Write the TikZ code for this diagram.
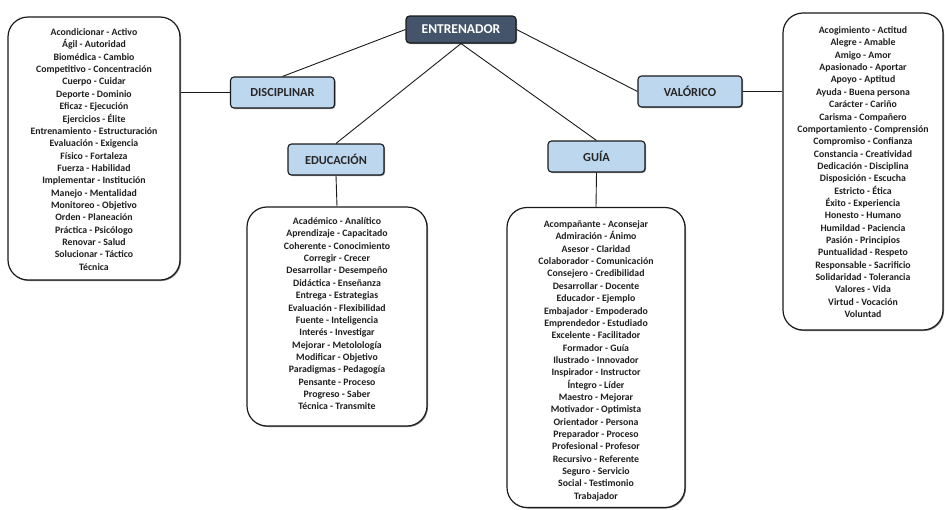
\documentclass[tikz,border=0pt]{standalone}
\usepackage{fontspec}
\setmainfont{Carlito}
\usetikzlibrary{shadows}
\definecolor{rootfill}{HTML}{44546A}
\definecolor{catfill}{HTML}{BDD7EE}
\definecolor{edge}{HTML}{1A1A1A}
\tikzset{
  rootbox/.style={draw=edge, line width=1.1pt, fill=rootfill, rounded corners=3.5pt,
    text=white, font=\bfseries\fontsize{13.5}{15}\selectfont,
    minimum width=110pt, minimum height=27pt, inner sep=0pt,
    drop shadow={shadow xshift=1pt, shadow yshift=-1pt, opacity=0.45, fill=black}},
  catbox/.style={draw=edge, line width=1.1pt, fill=catfill, rounded corners=3.5pt,
    text=black!85, font=\bfseries\fontsize{12.3}{14}\selectfont,
    minimum width=104pt, minimum height=31pt, inner sep=0pt,
    drop shadow={shadow xshift=1pt, shadow yshift=-1pt, opacity=0.45, fill=black}},
  listbox/.style={draw=edge, line width=1.2pt, fill=white, rounded corners=20pt,
    inner sep=0pt,
    drop shadow={shadow xshift=1pt, shadow yshift=-1pt, opacity=0.5, fill=black}},
  listtext/.style={align=center, inner sep=0pt, text=black!88,
    font=\bfseries\fontsize{9.8}{12.35}\selectfont},
  link/.style={draw=edge, line width=0.9pt},
}
\begin{document}
\begin{tikzpicture}[x=1pt, y=-1pt]
\useasboundingbox (0,0) rectangle (945,509);

% central node and categories
\node[rootbox] (E) at (461,29.5) {ENTRENADOR};
\node[catbox] (D) at (282.5,92.5) {DISCIPLINAR};
\node[catbox, minimum width=96pt] (Ed) at (336,159.5) {EDUCACIÓN};
\node[catbox, minimum width=97pt] (G) at (596.5,156.5) {GUÍA};
\node[catbox] (V) at (690,91.5) {VALÓRICO};

% word lists
\node[listbox, minimum width=172pt, minimum height=263pt] (LD) at (94,148.5) {};
\node[listbox, minimum width=180pt, minimum height=219pt] (LE) at (337,316.5) {};
\node[listbox, minimum width=178pt, minimum height=300pt] (LG) at (596,357.5) {};
\node[listbox, minimum width=160pt, minimum height=317pt] (LV) at (863,171.5) {};

\node[listtext, anchor=north] (TD) at (94,28.5) {Acondicionar  - Activo\\
Ágil - Autoridad\\
Biomédica - Cambio\\
Competitivo - Concentración\\
Cuerpo  - Cuidar\\
Deporte  - Dominio\\
Eficaz - Ejecución\\
Ejercicios - Élite\\
Entrenamiento  - Estructuración\\
Evaluación - Exigencia\\
Físico - Fortaleza\\
Fuerza - Habilidad\\
Implementar - Institución\\
Manejo - Mentalidad\\
Monitoreo  - Objetivo\\
Orden - Planeación\\
Práctica - Psicólogo\\
Renovar - Salud\\
Solucionar - Táctico\\
Técnica};

\node[listtext, anchor=north] (TE) at (337,217.5) {Académico - Analítico\\
Aprendizaje - Capacitado\\
Coherente  - Conocimiento\\
Corregir - Crecer\\
Desarrollar - Desempeño\\
Didáctica - Enseñanza\\
Entrega - Estrategias\\
Evaluación - Flexibilidad\\
Fuente - Inteligencia\\
Interés - Investigar\\
Mejorar - Metolología\\
Modificar - Objetivo\\
Paradigmas - Pedagogía\\
Pensante - Proceso\\
Progreso - Saber\\
Técnica - Transmite};

\node[listtext, anchor=north] (TG) at (596,220.5) {Acompañante  - Aconsejar\\
Admiración - Ánimo\\
Asesor - Claridad\\
Colaborador  - Comunicación\\
Consejero  - Credibilidad\\
Desarrollar - Docente\\
Educador  - Ejemplo\\
Embajador - Empoderado\\
Emprendedor  - Estudiado\\
Excelente - Facilitador\\
Formador - Guía\\
Ilustrado - Innovador\\
Inspirador  - Instructor\\
Íntegro - Líder\\
Maestro - Mejorar\\
Motivador  - Optimista\\
Orientador  - Persona\\
Preparador  - Proceso\\
Profesional - Profesor\\
Recursivo - Referente\\
Seguro - Servicio\\
Social - Testimonio\\
Trabajador};

\node[listtext, anchor=north] (TV) at (863,26.5) {Acogimiento - Actitud\\
Alegre - Amable\\
Amigo - Amor\\
Apasionado  - Aportar\\
Apoyo - Aptitud\\
Ayuda - Buena persona\\
Carácter - Cariño\\
Carisma - Compañero\\
Comportamiento  - Comprensión\\
Compromiso - Confianza\\
Constancia - Creatividad\\
Dedicación - Disciplina\\
Disposición - Escucha\\
Estricto - Ética\\
Éxito - Experiencia\\
Honesto - Humano\\
Humildad - Paciencia\\
Pasión - Principios\\
Puntualidad  - Respeto\\
Responsable - Sacrificio\\
Solidaridad - Tolerancia\\
Valores - Vida\\
Virtud - Vocación\\
Voluntad};

% connectors
\draw[link] (E.west) -- (D.north);
\draw[link] (E.south) -- (Ed.north);
\draw[link] (E.south) -- (G.north);
\draw[link] (E.east) -- (V.west);
\draw[link] (D.west) -- (D.west -| LD.east);
\draw[link] (V.east) -- (V.east -| LV.west);
\draw[link] (Ed.south) -- (LE.north);
\draw[link] (G.south) -- (LG.north);
\end{tikzpicture}
\end{document}
